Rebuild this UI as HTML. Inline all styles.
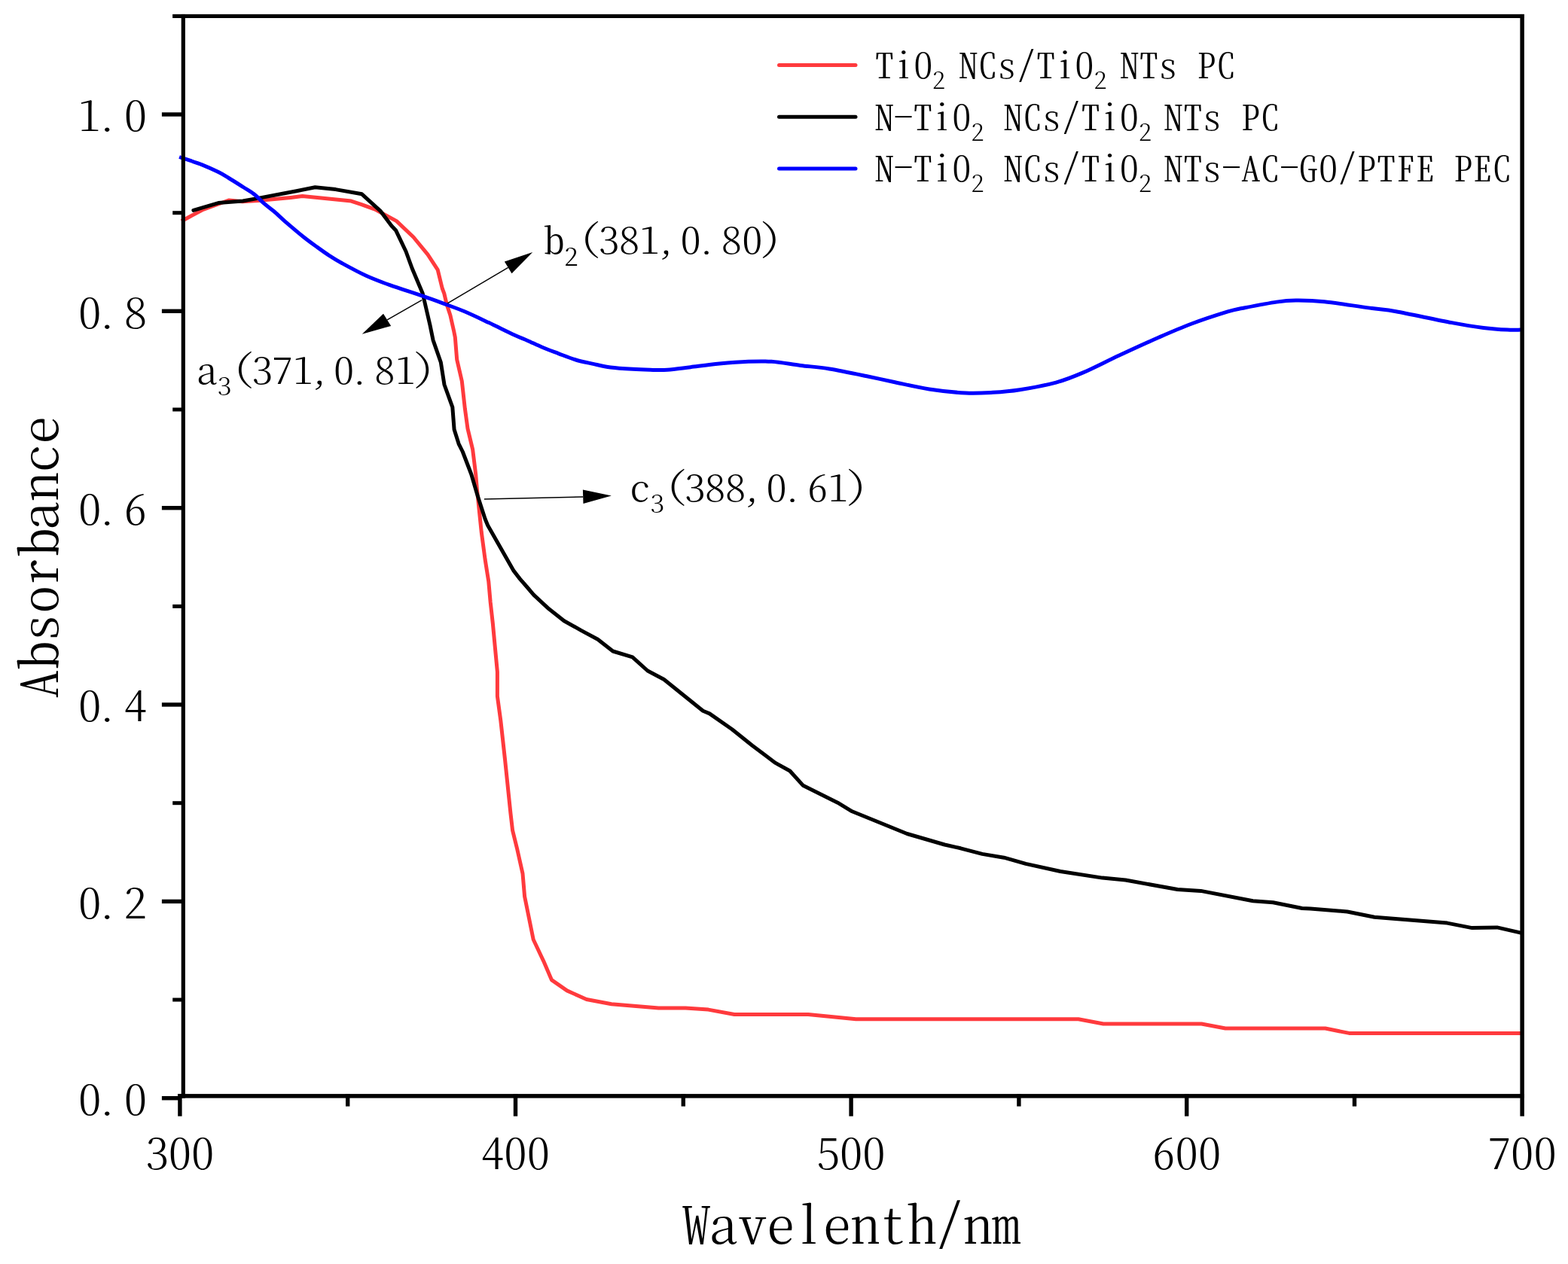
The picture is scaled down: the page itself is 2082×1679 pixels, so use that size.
<!DOCTYPE html><html><head><meta charset="utf-8"><title>Absorbance spectra</title><style>html,body{margin:0;padding:0;background:#fff;width:2082px;height:1679px;overflow:hidden}svg{display:block}</style></head><body><svg width="2082" height="1679" viewBox="0 0 2082 1679"><rect width="2082" height="1679" fill="#fff"/><polyline points="241.0,293.8 246.1,291.0 268.4,279.0 303.7,266.0 322.0,267.8 342.6,266.5 386.0,262.4 401.5,260.6 466.3,267.1 480.0,271.6 497.9,278.1 526.5,293.6 549.0,315.0 568.0,338.2 581.2,358.3 587.2,383.0 589.8,389.9 593.2,404.4 597.9,418.7 602.7,440.0 604.3,447.9 606.7,477.6 613.3,506.2 617.4,543.2 621.0,569.4 627.6,596.8 631.7,630.0 633.4,650.0 639.3,707.2 644.1,743.0 648.8,772.7 651.2,800.0 654.3,827.6 660.4,892.4 660.4,924.8 664.8,957.1 670.5,1008.6 677.9,1080.0 680.6,1103.2 686.8,1128.2 694.0,1160.4 696.6,1190.8 708.2,1248.0 721.7,1276.6 732.4,1301.6 752.9,1315.9 778.8,1327.5 811.9,1333.8 874.4,1339.0 910.3,1339.0 940.5,1341.1 975.1,1347.5 1073.1,1347.5 1136.5,1353.8 1431.9,1353.8 1465.0,1360.0 1595.4,1360.0 1627.1,1366.0 1759.7,1366.0 1791.4,1372.4 2019.0,1372.4" fill="none" stroke="#ff3a3d" stroke-width="5" stroke-linejoin="round" stroke-linecap="butt"/><polyline points="256.9,279.4 290.0,269.6 322.5,267.0 344.0,263.1 393.7,253.7 418.4,248.8 445.6,251.6 480.5,257.8 505.5,280.7 519.9,300.0 525.8,306.3 539.0,334.0 547.2,356.5 561.2,389.8 563.7,400.5 571.0,432.0 575.0,451.6 585.3,481.2 590.0,511.0 600.8,540.8 603.1,570.6 609.1,589.6 614.3,600.0 625.8,630.0 634.5,659.6 644.1,689.3 647.6,697.7 682.2,758.4 690.5,769.1 700.0,780.0 708.6,790.1 728.8,808.8 749.0,824.7 772.0,837.6 793.7,849.2 813.8,865.0 839.8,872.9 859.9,891.0 881.6,902.5 933.4,944.3 942.1,947.9 972.0,968.8 998.8,990.3 1029.6,1013.4 1048.8,1024.0 1066.1,1043.2 1112.2,1066.2 1131.4,1077.8 1162.1,1090.2 1204.4,1107.5 1254.3,1122.0 1275.5,1126.8 1304.3,1134.4 1333.1,1139.2 1362.0,1147.4 1408.0,1157.5 1463.7,1166.1 1494.5,1169.0 1563.6,1181.5 1594.4,1183.4 1663.6,1196.8 1690.4,1198.8 1728.9,1206.5 1740.0,1206.9 1789.0,1211.0 1825.0,1218.2 1921.6,1226.1 1954.7,1232.6 1987.8,1231.9 2019.5,1239.1" fill="none" stroke="#000" stroke-width="5" stroke-linejoin="round" stroke-linecap="round"/><path d="M238.1,208.5 C243.1,210.2 259.7,215.5 268.3,218.8 C276.9,222.2 284.2,225.7 290.0,228.6 C295.8,231.5 297.5,232.7 303.0,236.0 C308.5,239.3 317.1,244.8 322.9,248.5 C328.6,252.2 332.9,254.4 337.5,258.0 C342.1,261.6 346.2,266.4 350.5,270.1 C354.8,273.9 358.4,276.2 363.5,280.5 C368.6,284.8 374.3,290.5 380.8,296.1 C387.3,301.7 395.9,309.0 402.4,314.2 C408.9,319.4 413.9,323.0 419.7,327.2 C425.5,331.4 431.2,335.6 437.0,339.3 C442.8,343.1 446.1,345.2 454.3,349.7 C462.5,354.2 475.6,361.4 486.2,366.2 C496.8,371.0 505.1,374.1 517.6,378.6 C530.1,383.1 548.5,388.8 561.2,393.2 C573.9,397.6 584.6,401.6 593.9,405.0 C603.2,408.4 607.7,409.9 616.9,413.8 C626.1,417.7 638.0,423.4 649.0,428.6 C660.0,433.8 674.5,441.1 683.0,445.0 C691.5,448.9 693.8,449.5 700.0,452.2 C706.2,454.9 713.1,458.4 720.0,461.3 C726.9,464.2 734.1,466.8 741.5,469.6 C748.9,472.4 756.8,475.7 764.5,478.0 C772.2,480.3 779.9,481.7 787.6,483.4 C795.3,485.1 802.0,486.9 810.7,488.0 C819.4,489.1 831.3,489.8 840.0,490.3 C848.7,490.9 855.4,491.1 863.1,491.3 C870.8,491.5 877.1,491.9 886.1,491.3 C895.1,490.7 905.4,489.1 916.9,487.7 C928.4,486.3 942.5,484.3 955.3,483.1 C968.1,481.9 982.2,480.8 993.7,480.3 C1005.2,479.8 1012.9,479.5 1024.4,480.3 C1035.9,481.1 1050.1,483.8 1062.9,485.4 C1075.7,487.0 1086.8,487.6 1101.3,490.0 C1115.8,492.4 1135.9,496.6 1150.0,499.5 C1164.1,502.4 1172.0,504.3 1186.0,507.2 C1200.0,510.1 1218.0,514.5 1234.0,517.0 C1250.0,519.5 1268.1,521.3 1282.1,522.0 C1296.1,522.7 1306.1,522.0 1318.1,521.3 C1330.1,520.6 1340.1,519.9 1354.1,517.7 C1368.1,515.5 1388.2,511.9 1402.2,508.1 C1416.2,504.3 1424.2,500.9 1438.2,494.9 C1452.2,488.9 1469.4,479.8 1486.2,472.0 C1503.0,464.2 1523.0,455.0 1539.0,448.0 C1555.0,441.0 1567.1,435.7 1582.3,430.0 C1597.5,424.3 1618.9,417.4 1630.3,413.9 C1641.7,410.4 1639.9,411.3 1650.7,409.2 C1661.5,407.1 1683.5,402.8 1695.1,401.1 C1706.7,399.4 1709.9,399.1 1720.5,399.0 C1731.1,398.9 1741.6,398.9 1758.5,400.7 C1775.4,402.5 1806.1,407.4 1821.9,409.6 C1837.8,411.8 1836.0,410.6 1853.6,413.8 C1871.2,417.0 1908.2,425.0 1927.6,428.6 C1947.0,432.2 1957.5,433.8 1969.8,435.4 C1982.1,437.0 1993.3,437.7 2001.5,438.1 C2009.7,438.6 2016.1,438.1 2019.0,438.1" fill="none" stroke="#0000ff" stroke-width="5" stroke-linejoin="round" stroke-linecap="butt"/><rect x="229.1" y="18.9" width="1794.8" height="5.1" fill="#000"/><rect x="2018.4" y="18.9" width="5.5" height="1463.8" fill="#000"/><rect x="240.7" y="18.9" width="5.2" height="1439.7" fill="#000"/><rect x="236.0" y="1453.1" width="1787.9" height="5.5" fill="#000"/><rect x="214.9" y="1456.0" width="26.1" height="5.4" fill="#000"/><rect x="229.2" y="1325.5" width="11.8" height="5.0" fill="#000"/><rect x="214.9" y="1194.7" width="26.1" height="5.4" fill="#000"/><rect x="229.2" y="1064.2" width="11.8" height="5.0" fill="#000"/><rect x="214.9" y="933.3" width="26.1" height="5.4" fill="#000"/><rect x="229.2" y="802.9" width="11.8" height="5.0" fill="#000"/><rect x="214.9" y="672.0" width="26.1" height="5.4" fill="#000"/><rect x="229.2" y="541.5" width="11.8" height="5.0" fill="#000"/><rect x="214.9" y="410.6" width="26.1" height="5.4" fill="#000"/><rect x="229.2" y="280.2" width="11.8" height="5.0" fill="#000"/><rect x="214.9" y="149.3" width="26.1" height="5.4" fill="#000"/><rect x="236.2" y="1453.1" width="5.4" height="29.6" fill="#000"/><rect x="459.0" y="1453.1" width="5.4" height="16.5" fill="#000"/><rect x="681.8" y="1453.1" width="5.4" height="29.6" fill="#000"/><rect x="904.6" y="1453.1" width="5.4" height="16.5" fill="#000"/><rect x="1127.4" y="1453.1" width="5.4" height="29.6" fill="#000"/><rect x="1350.2" y="1453.1" width="5.4" height="16.5" fill="#000"/><rect x="1573.0" y="1453.1" width="5.4" height="29.6" fill="#000"/><rect x="1795.8" y="1453.1" width="5.4" height="16.5" fill="#000"/><line x1="594.3" y1="402.9" x2="674.7" y2="355.4" stroke="#000" stroke-width="1.5"/><polygon points="707.2,335.0 669.9,347.6 679.5,363.2" fill="#000"/><line x1="560.1" y1="398.7" x2="514.1" y2="424.8" stroke="#000" stroke-width="1.5"/><polygon points="480.8,443.7 509.0,416.7 519.2,432.9" fill="#000"/><line x1="642.9" y1="663.1" x2="774.2" y2="659.9" stroke="#000" stroke-width="1.5"/><polygon points="811.9,658.4 773.9,650.6 774.5,669.1" fill="#000"/><line x1="1034.5" y1="86.4" x2="1136.0" y2="86.4" stroke="#ff3a3d" stroke-width="5" stroke-linecap="round"/><line x1="1034.5" y1="155.3" x2="1136.0" y2="155.3" stroke="#000" stroke-width="5" stroke-linecap="round"/><line x1="1034.5" y1="224.0" x2="1136.0" y2="224.0" stroke="#0000ff" stroke-width="5" stroke-linecap="round"/><g font-family="'Noto Serif CJK SC','Liberation Serif',serif" font-weight="300" fill="#000" style="font-feature-settings:&quot;hwid&quot; 1"><text transform="translate(0,1480.9) scale(1,0.8740)" font-size="61"><tspan x="104.0 126.9 164.8" y="0.0 0.0 0.0">0.0</tspan></text><text transform="translate(0,1219.6) scale(1,0.8740)" font-size="61"><tspan x="104.0 126.9 164.5" y="0.0 0.0 0.0">0.2</tspan></text><text transform="translate(0,958.2) scale(1,0.8740)" font-size="61"><tspan x="104.0 126.9 164.8" y="0.0 0.0 0.0">0.4</tspan></text><text transform="translate(0,696.9) scale(1,0.8740)" font-size="61"><tspan x="104.0 126.9 164.5" y="0.0 0.0 0.0">0.6</tspan></text><text transform="translate(0,435.5) scale(1,0.8740)" font-size="61"><tspan x="104.0 126.9 164.7" y="0.0 0.0 0.0">0.8</tspan></text><text transform="translate(0,174.2) scale(1,0.8740)" font-size="61"><tspan x="103.8 126.9 164.8" y="0.0 0.0 0.0">1.0</tspan></text><text transform="translate(0,1553.0) scale(1,0.8940)" font-size="60.8"><tspan x="193.4 223.7 254.1" y="0.0 0.0 0.0">300</tspan></text><text transform="translate(0,1553.0) scale(1,0.8940)" font-size="60.8"><tspan x="638.9 669.3 699.7" y="0.0 0.0 0.0">400</tspan></text><text transform="translate(0,1553.0) scale(1,0.8940)" font-size="60.8"><tspan x="1085.0 1114.9 1145.3" y="0.0 0.0 0.0">500</tspan></text><text transform="translate(0,1553.0) scale(1,0.8940)" font-size="60.8"><tspan x="1529.9 1560.5 1590.9" y="0.0 0.0 0.0">600</tspan></text><text transform="translate(0,1553.0) scale(1,0.8940)" font-size="60.8"><tspan x="1975.5 2006.1 2036.5" y="0.0 0.0 0.0">700</tspan></text><text transform="translate(0,1652.2) scale(1,0.8970)" font-size="74.8"><tspan x="905.8 941.3 980.6 1017.8 1055.5 1092.6 1130.2 1166.4 1205.4 1242.6 1279.8 1317.4" y="0.0 0.0 0.0 0.0 0.0 0.0 0.0 0.0 0.0 -5.7 0.0 0.0">Wavelenth/nm</tspan></text><text transform="translate(76.7,0) rotate(-90) translate(0,0.0) scale(1,0.8970)" font-size="75.0"><tspan x="-927.6 -888.8 -852.8 -815.0 -780.1 -738.8 -704.6 -665.2 -628.0 -590.3" y="0.0 0.0 0.0 0.0 0.0 0.0 0.0 0.0 0.0 0.0">Absorbance</tspan></text><text transform="translate(0,104.1) scale(1,0.8860)" font-size="51.4"><tspan x="1161.4 1186.4 1213.0" y="0.0 0.0 0.0">TiO</tspan><tspan font-size="34.3" x="1238.1 1255.4" y="16.0 16.0">2 </tspan><tspan x="1273.0 1298.4 1324.1 1350.0 1375.7 1400.7 1427.1" y="0.0 0.0 0.0 -3.9 0.0 0.0 0.0">NCs/TiO</tspan><tspan font-size="34.3" x="1452.5 1469.4" y="16.0 16.0">2 </tspan><tspan x="1486.9 1512.5 1538.0 1563.9 1589.6 1615.1" y="0.0 0.0 0.0 0.0 0.0 0.0">NTs PC</tspan></text><text transform="translate(0,173.2) scale(1,0.8860)" font-size="51.4"><tspan x="1161.4 1186.8 1212.5 1237.5 1264.1" y="0.0 -1.5 0.0 0.0 0.0">N-TiO</tspan><tspan font-size="34.3" x="1289.4" y="16.0">2</tspan><tspan x="1306.7 1332.5 1357.9 1383.6 1409.5 1435.2 1460.2 1486.6" y="0.0 0.0 0.0 0.0 -3.9 0.0 0.0 0.0"> NCs/TiO</tspan><tspan font-size="34.3" x="1511.9 1528.4" y="16.0 16.0">2 </tspan><tspan x="1545.3 1570.9 1596.4 1622.2 1648.0 1673.5" y="0.0 0.0 0.0 0.0 0.0 0.0">NTs PC</tspan></text><text transform="translate(0,240.5) scale(1,0.8860)" font-size="51.4"><tspan x="1161.4 1186.8 1212.5 1237.5 1264.1" y="0.0 -1.5 0.0 0.0 0.0">N-TiO</tspan><tspan font-size="34.3" x="1289.4" y="16.0">2</tspan><tspan x="1306.7 1332.5 1357.9 1383.6 1409.5 1435.2 1460.2 1486.6" y="0.0 0.0 0.0 0.0 -3.9 0.0 0.0 0.0"> NCs/TiO</tspan><tspan font-size="34.3" x="1511.9 1528.4" y="16.0 16.0">2 </tspan><tspan x="1545.3 1570.9 1596.4 1622.2 1648.0 1673.6 1699.2 1724.2 1750.8 1776.3 1802.1 1827.8 1853.9 1879.2 1904.8 1930.2 1955.6 1981.3" y="0.0 0.0 0.0 -1.5 0.0 0.0 -1.5 0.0 0.0 -3.9 0.0 0.0 0.0 0.0 0.0 0.0 0.0 0.0">NTs-AC-GO/PTFE PEC</tspan></text><text transform="translate(0,337.3) scale(1,0.8670)" font-size="54.4"><tspan x="722.5" y="0.0">b</tspan><tspan font-size="37" x="749.2" y="18.1">2</tspan><tspan x="769.8 794.9 821.9 849.2 870.7 903.6 924.4 957.8 985.2 1009.9" y="-5.0 0.0 0.0 0.0 0.0 0.0 0.0 0.0 0.0 -5.0">(381,0.80)</tspan></text><text transform="translate(0,510.1) scale(1,0.8670)" font-size="54.4"><tspan x="260.7" y="0.0">a</tspan><tspan font-size="37" x="288.8" y="17.3">3</tspan><tspan x="309.5 334.8 361.3 388.9 410.4 443.1 463.8 497.2 524.9 549.6" y="-5.0 0.0 0.0 0.0 0.0 0.0 0.0 0.0 0.0 -5.0">(371,0.81)</tspan></text><text transform="translate(0,665.9) scale(1,0.8670)" font-size="54.4"><tspan x="836.0" y="0.0">c</tspan><tspan font-size="37" x="863.4" y="17.3">3</tspan><tspan x="884.2 909.2 935.9 963.0 984.8 1017.6 1038.4 1072.1 1099.5 1124.2" y="-5.0 0.0 0.0 0.0 0.0 0.0 0.0 0.0 0.0 -5.0">(388,0.61)</tspan></text></g></svg></body></html>
